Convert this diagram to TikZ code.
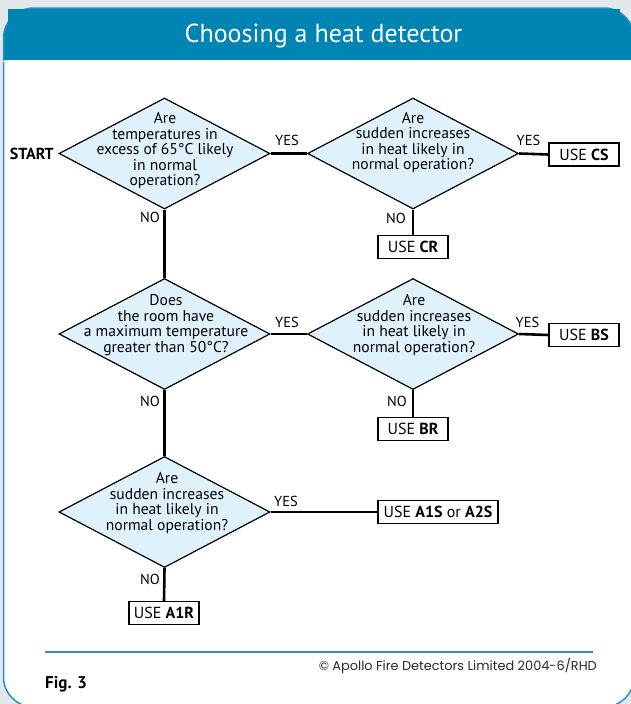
\documentclass[tikz,border=0pt]{standalone}
\usepackage{fontspec}
\setmainfont{PT Sans}
\newfontfamily\copyfont{Poppins}
\usetikzlibrary{shapes.geometric}
\definecolor{bggrey}{HTML}{E3E8EB}
\definecolor{hdrblue}{HTML}{0084B4}
\definecolor{rimblue}{HTML}{2B90C4}
\definecolor{dfill}{HTML}{DFF1FB}
\definecolor{copygrey}{HTML}{2A2A2A}
\tikzset{
  decision/.style={shape=diamond, draw=black, line width=1.2pt, fill=dfill,
    minimum width=211pt, minimum height=111pt, inner sep=0pt},
  qtext/.style={align=center, font=\fontsize{15.6}{15.5}\selectfont, inner sep=0pt},
  usebox/.style={draw=black, line width=1.2pt, fill=white, minimum width=70pt,
    minimum height=23pt, inner sep=0pt, font=\fontsize{16}{17}\selectfont},
  flow/.style={line width=2.6pt},
  lbl/.style={font=\fontsize{14.5}{16}\selectfont, inner sep=0pt},
}
\begin{document}
\begin{tikzpicture}[x=1pt, y=-1pt]
\useasboundingbox (0,0) rectangle (631,704);
\clip (0,0) rectangle (631,704);
% background and panel
\fill[bggrey] (0,0) rectangle (631,704);
\begin{scope}
  \clip[rounded corners=30pt] (3.5,8) rectangle (634,707);
  \fill[white] (0,0) rectangle (640,720);
  \fill[hdrblue] (0,0) rectangle (640,60);
\end{scope}
\draw[rimblue, line width=1.5pt, rounded corners=30pt] (3.5,8) rectangle (634,707);
\fill[hdrblue] (8,8.8) rectangle (620,59.5);
\draw[white, line width=1pt] (2,61) -- (636,61);
\node[text=white, font=\fontsize{26}{29}\selectfont, inner sep=0pt] (title) at (323.5,35.5) {Choosing a heat detector};

% decisions
\node[decision] (d1) at (164.5,153.5) {};
\node[decision] (d2) at (413,153.5) {};
\node[decision] (d3) at (164.5,334) {};
\node[decision] (d4) at (413,334) {};
\node[decision] (d5) at (164.5,512) {};

\node[qtext] (t1) at (165,151) {Are\\temperatures in\\excess of 65°C likely\\in normal\\operation?};
\node[qtext] (t2) at (413,142.5) {Are\\sudden increases\\in heat likely in\\normal operation?};
\node[qtext] (t3) at (166,325) {Does\\the room have\\a maximum temperature\\greater than 50°C?};
\node[qtext] (t4) at (414,325) {Are\\sudden increases\\in heat likely in\\normal operation?};
\node[qtext] (t5) at (167,503) {Are\\sudden increases\\in heat likely in\\normal operation?};

% outcomes
\node[usebox] (cs) at (584,154.5) {USE \textbf{CS}};
\node[usebox] (cr) at (413,247) {USE \textbf{CR}};
\node[usebox] (bs) at (584,335) {USE \textbf{BS}};
\node[usebox] (br) at (413,429) {USE \textbf{BR}};
\node[usebox, minimum width=120pt] (a1s) at (438,512) {USE \textbf{A1S} or \textbf{A2S}};
\node[usebox] (a1r) at (164,613) {USE \textbf{A1R}};

\node[anchor=east, font=\fontsize{16}{18}\selectfont\bfseries, inner sep=0pt] (start) at (54,154) {START};

% connectors
\draw[flow] (d1.east) -- (d2.west);
\draw[flow] (d2.east) -- (cs.west);
\draw[flow] (d2.south) -- (cr.north);
\draw[flow] (d1.south) -- (d3.north);
\draw[flow] (d3.east) -- (d4.west);
\draw[flow] (d4.east) -- (bs.west);
\draw[flow] (d4.south) -- (br.north);
\draw[flow] (d3.south) -- (d5.north);
\draw[flow] (d5.east) -- (a1s.west);
\draw[flow] (d5.south) -- (a1r.north);

% labels
\node[lbl] (y1) at (287,140) {YES};
\node[lbl] (y2) at (528.5,140) {YES};
\node[lbl, anchor=east] (n1) at (160,217) {NO};
\node[lbl, anchor=east] (n2) at (406,218) {NO};
\node[lbl] (y3) at (287,322) {YES};
\node[lbl] (y4) at (527.5,322) {YES};
\node[lbl, anchor=east] (n3) at (160,401) {NO};
\node[lbl, anchor=east] (n4) at (407,401) {NO};
\node[lbl] (y5) at (286,501) {YES};
\node[lbl, anchor=east] (n5) at (160,579) {NO};

% footer
\draw[rimblue, line width=1.2pt] (45,652) -- (593,652);
\node[anchor=east, text=copygrey, font=\copyfont\fontsize{12.9}{14}\selectfont, inner sep=0pt] (copy) at (597,666) {© Apollo Fire Detectors Limited 2004-6/RHD};
\node[anchor=west, font=\fontsize{17}{19}\selectfont\bfseries, inner sep=0pt] (fig) at (45,684) {Fig. 3};
\end{tikzpicture}
\end{document}
